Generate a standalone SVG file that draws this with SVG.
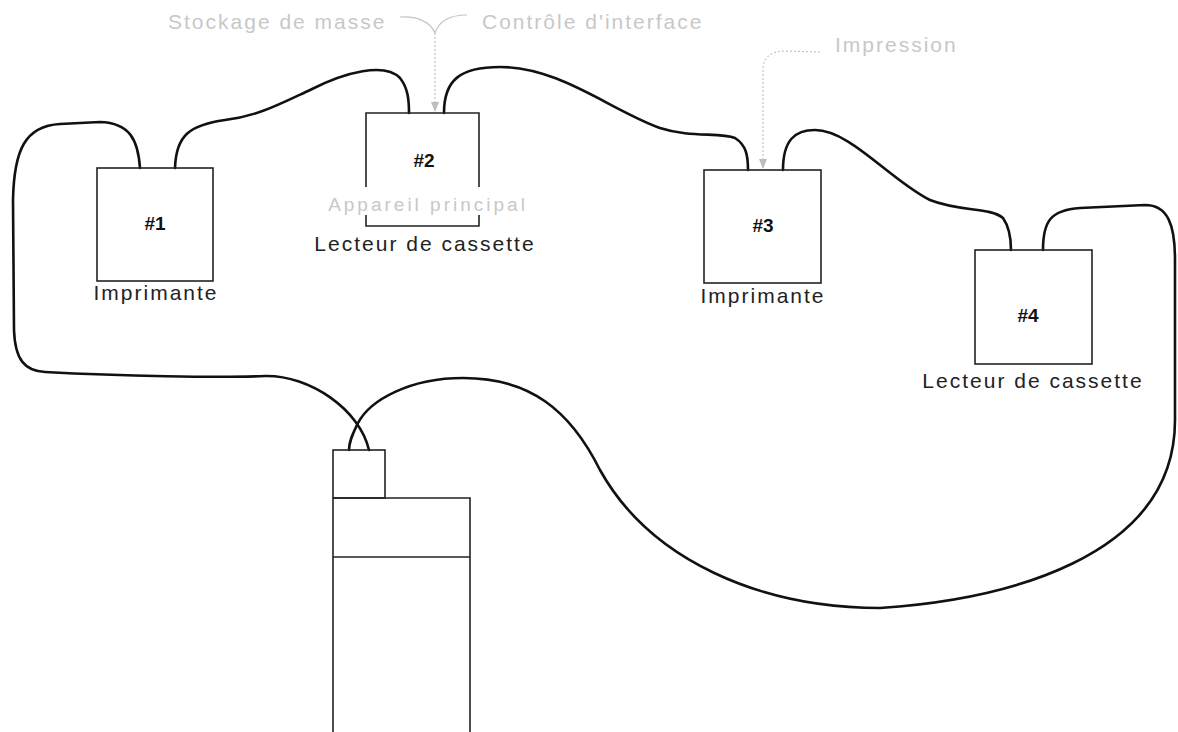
<svg xmlns="http://www.w3.org/2000/svg" width="1178" height="732" viewBox="0 0 1178 732">
<style>
.box{fill:none;stroke:#222;stroke-width:1.6}
.cable{fill:none;stroke:#111;stroke-width:2.6;stroke-linecap:round}
.lead{fill:none;stroke:#c4c4c4;stroke-width:1.2}
.dot{fill:none;stroke:#c4c4c4;stroke-width:1.2;stroke-dasharray:2 2}
.lbl{font-family:"Liberation Sans",Arial,sans-serif;font-size:21px;letter-spacing:2px;fill:#222;text-anchor:middle}
.num{font-family:"Liberation Sans",Arial,sans-serif;font-size:19px;font-weight:bold;fill:#111;text-anchor:middle}
.ann{font-family:"Liberation Sans",Arial,sans-serif;font-size:21px;letter-spacing:2px;fill:#c8c8c8}
</style>
<defs>
<marker id="arr" viewBox="0 0 10 10" refX="10" refY="5" markerWidth="10" markerHeight="10" markerUnits="userSpaceOnUse" orient="auto">
<path d="M0,1 L10,5 L0,9 Z" fill="#bdbdbd"/>
</marker>
</defs>
<rect width="1178" height="732" fill="#fff"/>

<g id="annotations">
<text class="ann" x="168" y="29">Stockage de masse</text>
<text class="ann" x="482" y="29">Contrôle d'interface</text>
<text class="ann" x="835" y="52">Impression</text>
<path class="lead" d="M400,17 C416,16 430,21 435,33"/>
<path class="lead" d="M467,15 C450,15 439,21 435,33"/>
<path class="dot" d="M435,33 L435,112" marker-end="url(#arr)"/>
<path class="dot" d="M820,52 L785,51 C770,51 763,58 763,70 L763,169" marker-end="url(#arr)"/>
</g>

<g id="connectors">
<path class="cable" d="M140,168 C138,140 130,123 100,122 L60,124 C25,126 14,150 13,200 L14,330 C15,360 25,371 45,372 C120,376 220,378 265,376 C310,375 360,410 369,450"/>
<path class="cable" d="M175,168 C176,135 190,125 225,120 C258,116 280,104 310,90 C345,72 385,62 400,78 C408,88 409,100 409,113"/>
<path class="cable" d="M444,113 C444,80 460,67 500,67 C560,67 610,110 660,128 C690,138 720,132 735,138 C746,145 748,155 748,170"/>
<path class="cable" d="M783,170 C783,140 795,130 815,130 C850,130 890,180 930,200 C960,212 990,207 1003,218 C1010,228 1011,240 1011,250"/>
<path class="cable" d="M1043,250 C1043,222 1050,210 1080,208 L1145,205 C1168,205 1175,225 1175,260 L1175,420 C1175,560 1000,600 880,608 C760,608 650,560 600,470 C570,410 530,378 463,378 C410,378 370,400 358,423 C352,435 349,442 349,450"/>
</g>

<g id="node1">
<rect class="box" x="97" y="168" width="116" height="113"/>
<text class="num" x="155" y="230">#1</text>
<text class="lbl" x="156" y="300">Imprimante</text>
</g>

<g id="node2">
<path class="box" d="M366,187 L366,113 L479,113 L479,187 M366,215 L366,226 L479,226 L479,215"/>
<text class="num" x="424" y="167">#2</text>
<text class="ann" x="428" y="211" text-anchor="middle" style="font-size:19px;letter-spacing:3px">Appareil principal</text>
<text class="lbl" x="425" y="251">Lecteur de cassette</text>
</g>

<g id="node3">
<rect class="box" x="704" y="170" width="117" height="113"/>
<text class="num" x="763" y="232">#3</text>
<text class="lbl" x="763" y="303">Imprimante</text>
</g>

<g id="node4">
<rect class="box" x="975" y="250" width="117" height="114"/>
<text class="num" x="1028" y="322">#4</text>
<text class="lbl" x="1033" y="388">Lecteur de cassette</text>
</g>

<g id="main-unit">
<rect class="box" x="333" y="450" width="52" height="48"/>
<path class="box" d="M333,498 L470,498 L470,740 M333,498 L333,740 M333,557 L470,557"/>
</g>
</svg>
